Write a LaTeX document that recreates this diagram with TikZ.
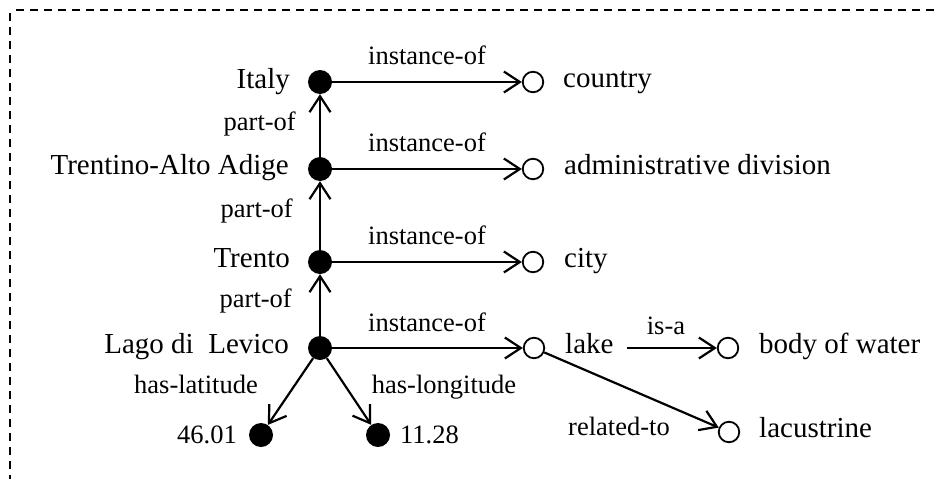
\documentclass[tikz,border=0pt]{standalone}
\usepackage{fontspec}
\setmainfont{Liberation Serif}
\usetikzlibrary{arrows.meta}
\begin{document}
\begin{tikzpicture}[x=1pt,y=-1pt,
  fdot/.style={circle,fill=black,inner sep=0pt,minimum size=24pt},
  odot/.style={circle,draw=black,line width=1.8pt,inner sep=0pt,minimum size=20.5pt},
  nlab/.style={inner sep=0pt,font=\fontsize{29}{34}\selectfont},
  elab/.style={inner sep=0pt,font=\fontsize{26.5}{31}\selectfont,anchor=base},
  arr/.style={line width=2.2pt,-{Straight Barb[length=16pt,width=21pt,line width=2.2pt]}},
  border/.style={line width=2pt,dash pattern=on 8pt off 6pt}]
\useasboundingbox (0,0) rectangle (936,479);
% border
\draw[border] (16,10) -- (936,10);
\draw[border] (9.5,13) -- (9.5,479);
% filled nodes
\node[fdot] (italy) at (320,82) {};
\node[fdot] (trentino) at (320,169) {};
\node[fdot] (trento) at (320,262) {};
\node[fdot] (lago) at (320,348) {};
\node[fdot] (lat) at (261,435) {};
\node[fdot] (lon) at (378,435) {};
% open nodes
\node[odot] (country) at (533,82) {};
\node[odot] (admin) at (533,169) {};
\node[odot] (city) at (533,262) {};
\node[odot] (lake) at (534,348) {};
\node[odot] (body) at (728,348) {};
\node[odot] (lacus) at (729,432) {};
% node texts
\node[nlab,anchor=base east] (italyT) at (290,88.5) {Italy};
\node[nlab,anchor=base east] (trentinoT) at (289,174.5) {Trentino-Alto Adige};
\node[nlab,anchor=base east] (trentoT) at (290,267.5) {Trento};
\node[nlab,anchor=base east] (lagoT) at (289,353.5) {Lago di\ \ Levico};
\node[elab,anchor=base east] (latT) at (237,443) {46.01};
\node[elab,anchor=base west] (lonT) at (400,443) {11.28};
\node[nlab,anchor=base west] (countryT) at (563,87) {country};
\node[nlab,anchor=base west] (adminT) at (564,174.5) {administrative division};
\node[nlab,anchor=base west] (cityT) at (564,267.5) {city};
\node[nlab,anchor=base west] (lakeT) at (565,353) {lake};
\node[nlab,anchor=base west] (bodyT) at (759,353) {body of water};
\node[nlab,anchor=base west] (lacusT) at (759,437) {lacustrine};
% connectors
\draw[arr] (trentino) -- (italy);
\draw[arr] (trento) -- (trentino);
\draw[arr] (lago) -- (trento);
\draw[arr] (italy) -- (country);
\draw[arr] (trentino) -- (admin);
\draw[arr] (trento) -- (city);
\draw[arr] (lago) -- (lake);
\draw[arr] (lago) -- (lat);
\draw[arr] (lago) -- (lon);
\coordinate (isastart) at (627,348);
\draw[arr] (isastart) -- (body);
\draw[arr] (lake) -- (lacus);
% edge labels
\node[elab] (e1) at (427,64.5) {instance-of};
\node[elab] (e2) at (427,151.5) {instance-of};
\node[elab] (e3) at (427,244.5) {instance-of};
\node[elab] (e4) at (427,331) {instance-of};
\node[elab,anchor=base east] (p1) at (296,130) {part-of};
\node[elab,anchor=base east] (p2) at (293,217) {part-of};
\node[elab,anchor=base east] (p3) at (292,307) {part-of};
\node[elab] (hl) at (196,393) {has-latitude};
\node[elab] (hg) at (444,393) {has-longitude};
\node[elab] (isa) at (666,334) {is-a};
\node[elab] (rel) at (619,435) {related-to};
\end{tikzpicture}
\end{document}
